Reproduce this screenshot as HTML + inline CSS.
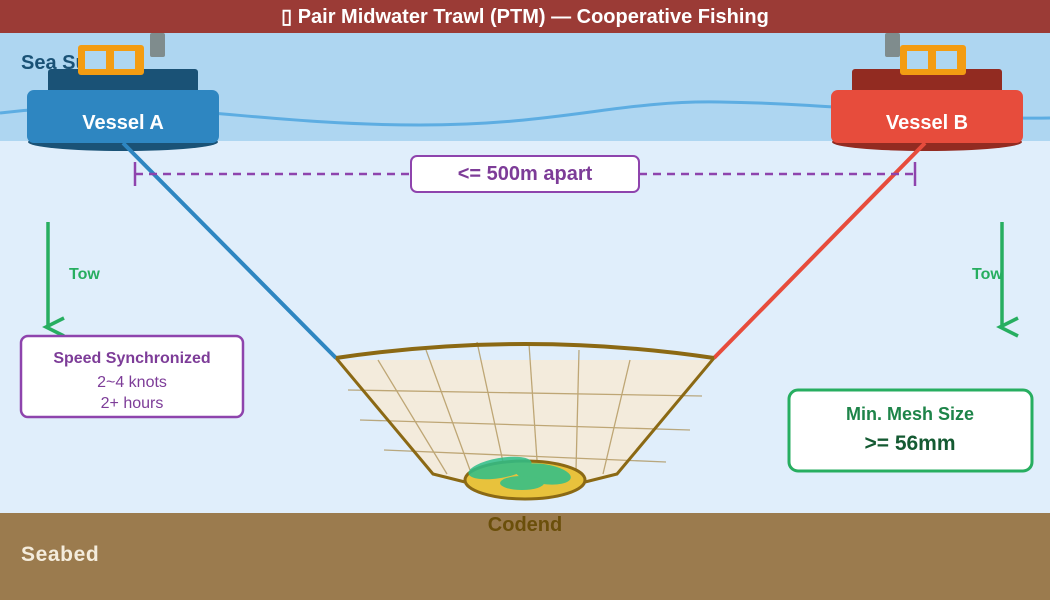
<!DOCTYPE html>
<html><head><meta charset="utf-8"><style>
html,body{margin:0;padding:0;width:1050px;height:600px;overflow:hidden;}
svg{display:block;font-family:"Liberation Sans",sans-serif;}
</style></head><body>
<svg width="1050" height="600" viewBox="0 0 1050 600" xmlns="http://www.w3.org/2000/svg">
<rect x="0" y="0" width="1050" height="600" fill="#e0eefb"/>
<rect x="0" y="33" width="1050" height="108" fill="#aed6f1"/>
<rect x="0" y="513" width="1050" height="87" fill="#9b7b4e"/>
<rect x="0" y="0" width="1050" height="33" fill="#9b3b36"/>
<text x="525" y="23" text-anchor="middle" font-size="20" font-weight="bold" fill="#fff">▯ Pair Midwater Trawl (PTM) — Cooperative Fishing</text>
<text x="21" y="69" font-size="20" font-weight="bold" fill="#1a5276">Sea Surface</text>
<path d="M0,113 C150,95 250,125 420,125 C560,125 620,100 720,102 C850,104 950,120 1050,118" fill="none" stroke="#5dade2" stroke-width="3"/>
<!-- Vessel A -->
<rect x="150" y="33" width="15" height="24" rx="2" fill="#7f8c8d"/>
<ellipse cx="123" cy="142" rx="95" ry="9" fill="#1a5276"/>
<rect x="48" y="69" width="150" height="27" rx="3" fill="#1a5276"/>
<rect x="78" y="45" width="66" height="30" rx="3" fill="#f39c12"/>
<rect x="85" y="51" width="21" height="18" fill="#aed6f1"/>
<rect x="114" y="51" width="21" height="18" fill="#aed6f1"/>
<rect x="27" y="90" width="192" height="53" rx="7" fill="#2e86c1"/>
<text x="123" y="129" text-anchor="middle" font-size="20" font-weight="bold" fill="#fff">Vessel A</text>
<!-- Vessel B -->
<rect x="885" y="33" width="15" height="24" rx="2" fill="#7f8c8d"/>
<ellipse cx="927" cy="142" rx="95" ry="9" fill="#922b21"/>
<rect x="852" y="69" width="150" height="27" rx="3" fill="#922b21"/>
<rect x="900" y="45" width="66" height="30" rx="3" fill="#f39c12"/>
<rect x="907" y="51" width="21" height="18" fill="#aed6f1"/>
<rect x="936" y="51" width="21" height="18" fill="#aed6f1"/>
<rect x="831" y="90" width="192" height="53" rx="7" fill="#e74c3c"/>
<text x="927" y="129" text-anchor="middle" font-size="20" font-weight="bold" fill="#fff">Vessel B</text>
<!-- tow lines -->
<line x1="123" y1="143" x2="336" y2="358" stroke="#2e86c1" stroke-width="4"/>
<line x1="925" y1="143" x2="714" y2="358" stroke="#e74c3c" stroke-width="4"/>
<!-- distance -->
<line x1="135" y1="174" x2="915" y2="174" stroke="#8e44ad" stroke-width="2.5" stroke-dasharray="8,6"/>
<line x1="135" y1="162" x2="135" y2="186" stroke="#8e44ad" stroke-width="2.5"/>
<line x1="915" y1="162" x2="915" y2="186" stroke="#8e44ad" stroke-width="2.5"/>
<rect x="411" y="156" width="228" height="36" rx="6" fill="#fff" stroke="#8e44ad" stroke-width="2"/>
<text x="525" y="180" text-anchor="middle" font-size="20" font-weight="bold" fill="#7d3c98">&lt;= 500m apart</text>
<!-- tow arrows -->
<g stroke="#27ae60" stroke-width="3.5" fill="none">
<line x1="48" y1="222" x2="48" y2="328"/><polyline points="64,318 46,327 64,336"/>
<line x1="1002" y1="222" x2="1002" y2="328"/><polyline points="1018,318 1000,327 1018,336"/>
</g>
<text x="69" y="279" font-size="16" font-weight="bold" fill="#27ae60">Tow</text>
<text x="972" y="279" font-size="16" font-weight="bold" fill="#27ae60">Tow</text>
<!-- net -->
<path d="M337,360 L713,360 L617,474 L585,482 L465,482 L433,474 Z" fill="#f3ebdc"/>
<g stroke="#a88a4a" stroke-width="1.3" opacity="0.7">
<line x1="378" y1="360" x2="447" y2="474"/><line x1="426" y1="350" x2="470" y2="470"/>
<line x1="477" y1="342" x2="503" y2="462"/><line x1="529" y1="344" x2="537" y2="460"/>
<line x1="579" y1="350" x2="576" y2="470"/><line x1="630" y1="360" x2="603" y2="474"/>
<line x1="348" y1="390" x2="702" y2="396"/><line x1="360" y1="420" x2="690" y2="430"/>
<line x1="384" y1="450" x2="666" y2="462"/>
</g>
<path d="M336,358 L433,474 L465,482 M714,358 L617,474 L585,482" fill="none" stroke="#8b6914" stroke-width="3"/>
<path d="M336,358 Q525,330 714,358" fill="none" stroke="#8b6914" stroke-width="4"/>
<ellipse cx="525" cy="480" rx="60" ry="19" fill="#e8c23c" stroke="#8b6914" stroke-width="3"/>
<g fill="#2ebf8a" opacity="0.85">
<ellipse cx="500" cy="468" rx="32" ry="10" transform="rotate(-10 500 468)"/>
<ellipse cx="543" cy="474" rx="28" ry="10" transform="rotate(8 543 474)"/>
<ellipse cx="522" cy="483" rx="22" ry="7"/>
</g>
<text x="525" y="531" text-anchor="middle" font-size="20" font-weight="bold" fill="#6b4f0a">Codend</text>
<text x="21" y="561" font-size="21" font-weight="bold" fill="#f4ecdc" letter-spacing="0.6">Seabed</text>
<!-- speed box -->
<rect x="21" y="336" width="222" height="81" rx="7" fill="#fff" stroke="#8e44ad" stroke-width="2.5"/>
<text x="132" y="363" text-anchor="middle" font-size="16" font-weight="bold" fill="#7d3c98">Speed Synchronized</text>
<text x="132" y="387" text-anchor="middle" font-size="16" fill="#7d3c98">2~4 knots</text>
<text x="132" y="408" text-anchor="middle" font-size="16" fill="#7d3c98">2+ hours</text>
<!-- mesh box -->
<rect x="789" y="390" width="243" height="81" rx="9" fill="#fff" stroke="#27ae60" stroke-width="3"/>
<text x="910" y="420" text-anchor="middle" font-size="18" font-weight="bold" fill="#1e8449">Min. Mesh Size</text>
<text x="910" y="450" text-anchor="middle" font-size="21" font-weight="bold" fill="#145a32">&gt;= 56mm</text>
</svg>
</body></html>
